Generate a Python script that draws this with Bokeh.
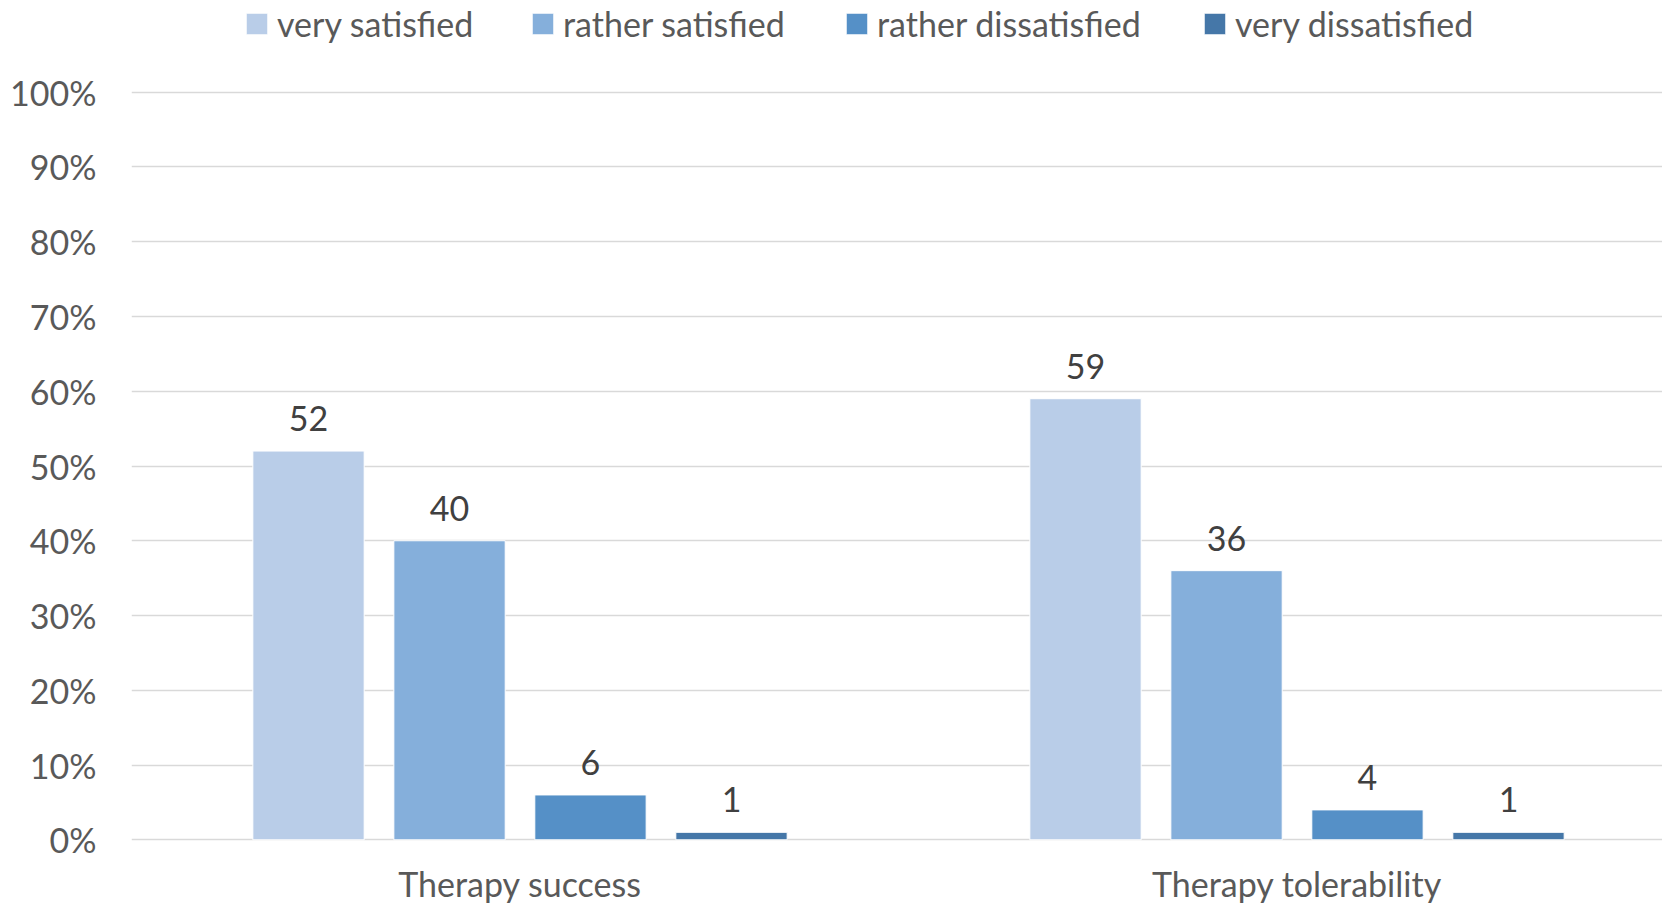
from bokeh.plotting import figure
from bokeh.models import (ColumnDataSource, Range1d, FixedTicker, PrintfTickFormatter,
                          LabelSet, Legend, LegendItem)
from bokeh.core.properties import value
from bokeh.transform import dodge
from bokeh.embed import file_html
from bokeh.resources import INLINE

categories = ["Therapy success", "Therapy tolerability"]
series = ["very satisfied", "rather satisfied", "rather dissatisfied", "very dissatisfied"]
very_satisfied = [52, 59]
rather_satisfied = [40, 36]
rather_dissatisfied = [6, 4]
very_dissatisfied = [1, 1]
y_ticks = [0, 10, 20, 30, 40, 50, 60, 70, 80, 90, 100]

colors = ["#B9CDE8", "#85AFDB", "#5590C7", "#4577A8"]
offsets = [-0.2722, -0.0907, 0.0907, 0.2722]
bar_w = 0.1433
FONT = "Lato"
FS = "34px"
legend_x = [112, 398, 712, 1070]   # screen px from frame left

H = 906
PX_PER_UNIT = 7.476
ZERO_Y = 839.3

values = [very_satisfied, rather_satisfied, rather_dissatisfied, very_dissatisfied]
xpos = list(range(len(categories)))

p = figure(width=1662, height=H, output_backend="svg", toolbar_location=None,
           x_range=Range1d(-0.5, -0.5 + (1662 - 131) / 777.0),
           y_range=Range1d(-(H - ZERO_Y) / PX_PER_UNIT, ZERO_Y / PX_PER_UNIT),
           x_axis_location=None,
           min_border_left=131, min_border_right=0, min_border_top=0, min_border_bottom=0)
p.outline_line_color = None
p.background_fill_color = "white"
p.border_fill_color = "white"

for name, vals, col, off, lx in zip(series, values, colors, offsets, legend_x):
    src = ColumnDataSource(dict(x=xpos, top=vals, label=[str(v) for v in vals]))
    r = p.vbar(x=dodge("x", off, range=p.x_range), top="top", bottom=0, width=bar_w,
               source=src, fill_color=col, line_color="white", line_width=1)
    lbl = LabelSet(x=dodge("x", off, range=p.x_range), y="top", text="label", source=src,
                   text_align="center", text_baseline="alphabetic", y_offset=20,
                   text_font=value(FONT), text_font_size=FS, text_color="#404040")
    p.add_layout(lbl)
    leg = Legend(items=[LegendItem(label=name, renderers=[r])], location=(lx, 862),
                 glyph_width=27, glyph_height=27, label_height=21, label_standoff=7,
                 padding=0, margin=0, border_line_color=None, background_fill_alpha=0,
                 label_text_font=FONT, label_text_font_size=FS, label_text_color="#595959")
    p.add_layout(leg, "center")

cat_src = ColumnDataSource(dict(x=xpos, y=[0] * len(categories), text=categories))
p.add_layout(LabelSet(x="x", y="y", text="text", source=cat_src, text_align="center",
                      text_baseline="alphabetic", y_offset=-57.5, text_font=value(FONT),
                      text_font_size=FS, text_color="#595959"))

p.yaxis.ticker = FixedTicker(ticks=y_ticks)
p.yaxis.formatter = PrintfTickFormatter(format="%d%%")
p.yaxis.axis_line_color = None
p.yaxis.major_tick_out = 0
p.yaxis.major_tick_in = 0
p.yaxis.minor_tick_line_color = None
p.yaxis.major_label_text_font = FONT
p.yaxis.major_label_text_font_size = FS
p.yaxis.major_label_text_color = "#595959"
p.yaxis.major_label_standoff = 35
p.xgrid.grid_line_color = None
p.ygrid.grid_line_color = "#D9D9D9"
p.ygrid.grid_line_width = 1.6

open("out.html", "w").write(file_html(p, INLINE))
